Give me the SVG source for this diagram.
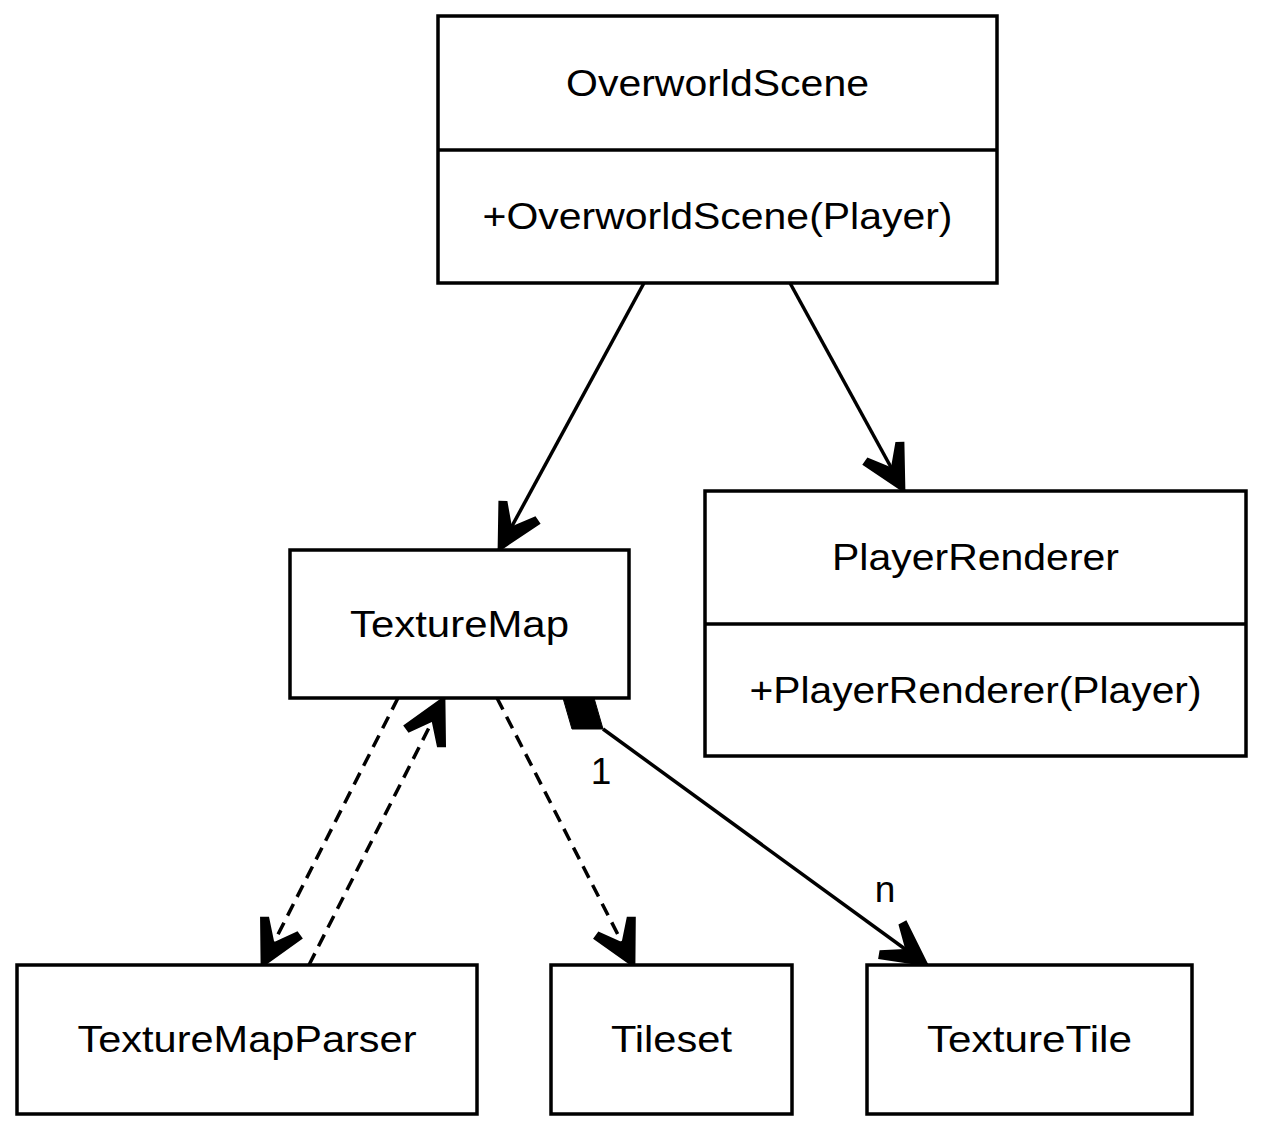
<svg xmlns="http://www.w3.org/2000/svg" width="1263" height="1132" viewBox="0 0 1263 1132">
<style>
.box{fill:#fff;stroke:#000;stroke-width:3.5}
.div{stroke:#000;stroke-width:3.5}
.t{font-family:"Liberation Sans",Arial,sans-serif;font-size:37px;fill:#000;text-anchor:middle}
.edge{fill:none;stroke:#000;stroke-width:3.5}
.dash{stroke-dasharray:13 8}
</style>
<defs>
<marker id="arr" markerUnits="userSpaceOnUse" orient="auto" markerWidth="60" markerHeight="60" viewBox="-50 -30 60 60" refX="0" refY="0" overflow="visible">
<path d="M3,0 L-43,-24 L-47,-16 L-27,0 L-47,16 L-43,24 Z" fill="#000" stroke="none"/>
</marker>
</defs>
<g id="connectors">
<line class="edge" x1="644" y1="283" x2="499" y2="550" marker-end="url(#arr)"/>
<line class="edge" x1="790" y1="283" x2="904" y2="491" marker-end="url(#arr)"/>
<line class="edge dash" x1="398" y1="698" x2="262" y2="966" marker-end="url(#arr)"/>
<line class="edge dash" x1="309" y1="965" x2="444" y2="698" marker-end="url(#arr)"/>
<line class="edge dash" x1="497" y1="698" x2="634" y2="966" marker-end="url(#arr)"/>
<line class="edge" x1="603" y1="729" x2="927" y2="965" marker-end="url(#arr)"/>
<polygon points="563,698 594,698 603,729 572,729" fill="#000" stroke="#000" stroke-width="1"/>
<text class="t" x="601" y="784">1</text>
<text class="t" x="885" y="902">n</text>
</g>
<g id="OverworldScene">
<rect class="box" x="438" y="16" width="559" height="267"/>
<line class="div" x1="438" y1="150" x2="997" y2="150"/>
<text class="t" x="717.5" y="96" textLength="303" lengthAdjust="spacingAndGlyphs">OverworldScene</text>
<text class="t" x="717.5" y="229" textLength="470" lengthAdjust="spacingAndGlyphs">+OverworldScene(Player)</text>
</g>
<g id="PlayerRenderer">
<rect class="box" x="705" y="491" width="541" height="265"/>
<line class="div" x1="705" y1="624" x2="1246" y2="624"/>
<text class="t" x="975.5" y="570" textLength="287" lengthAdjust="spacingAndGlyphs">PlayerRenderer</text>
<text class="t" x="975.5" y="703" textLength="452" lengthAdjust="spacingAndGlyphs">+PlayerRenderer(Player)</text>
</g>
<g id="TextureMap">
<rect class="box" x="290" y="550" width="339" height="148"/>
<text class="t" x="459.5" y="637" textLength="219" lengthAdjust="spacingAndGlyphs">TextureMap</text>
</g>
<g id="TextureMapParser">
<rect class="box" x="17" y="965" width="460" height="149"/>
<text class="t" x="247" y="1052" textLength="339" lengthAdjust="spacingAndGlyphs">TextureMapParser</text>
</g>
<g id="Tileset">
<rect class="box" x="551" y="965" width="241" height="149"/>
<text class="t" x="671.5" y="1052" textLength="121" lengthAdjust="spacingAndGlyphs">Tileset</text>
</g>
<g id="TextureTile">
<rect class="box" x="867" y="965" width="325" height="149"/>
<text class="t" x="1029.5" y="1052" textLength="205" lengthAdjust="spacingAndGlyphs">TextureTile</text>
</g>
</svg>
